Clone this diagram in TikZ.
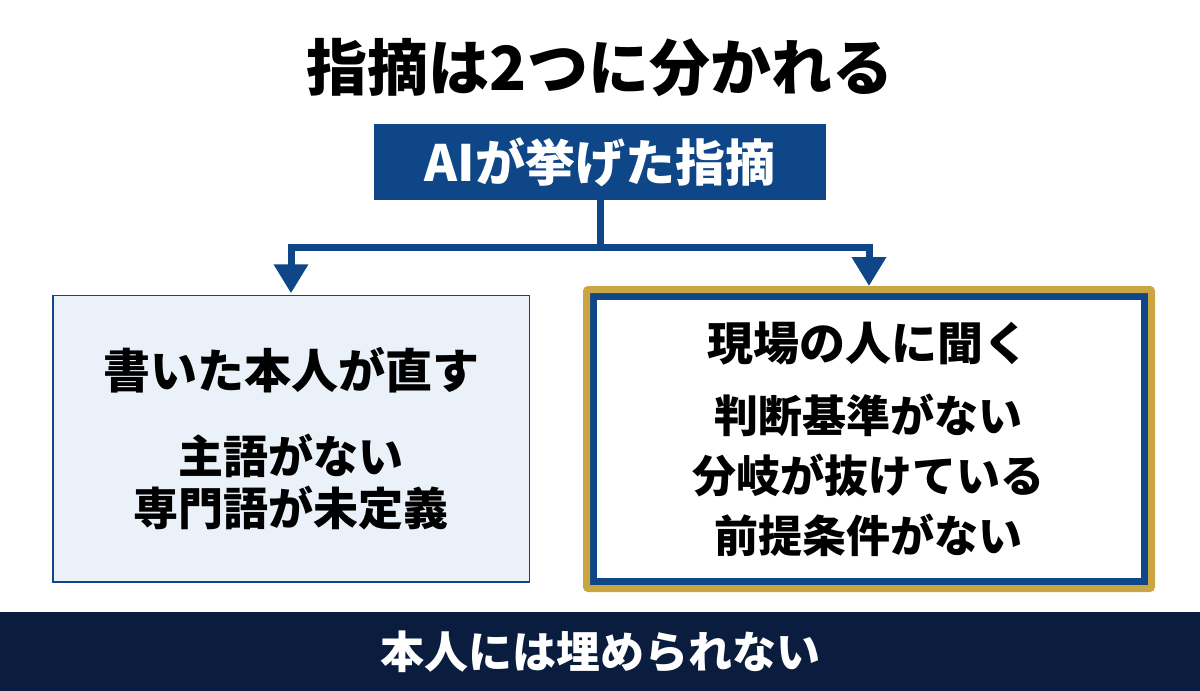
\documentclass[tikz,border=0pt]{standalone}
\usepackage{fontspec}
\setmainfont{Noto Sans CJK JP}
\usepackage{xcolor}
\usepackage{tikz}
\usetikzlibrary{arrows.meta, positioning, fit}
\definecolor{navy}{HTML}{0E4688}
\definecolor{deepnavy}{HTML}{0B1D3E}
\definecolor{paleblue}{HTML}{EAF1F9}
\definecolor{gold}{HTML}{C9A544}
\tikzset{
  box/.style={
    rectangle, inner sep=0pt, outer sep=0pt,
    text centered, font=\bfseries
  },
  src/.style   = {box, fill=navy, text=white,
                  minimum width=452pt, minimum height=76pt,
                  font=\fontsize{50}{58}\selectfont\bfseries},
  selfbox/.style  = {box, fill=paleblue, draw=navy, line width=1.5pt,
                  minimum width=476.5pt, minimum height=286.5pt},
  fieldbox/.style = {box, fill=white, draw=navy, line width=7pt,
                  minimum width=551pt, minimum height=285pt},
  rim/.style   = {rectangle, draw=gold, line width=7pt,
                  inner sep=7pt, rounded corners=2pt},
  bar/.style   = {box, fill=deepnavy, text=white,
                  minimum width=1200pt, minimum height=79pt,
                  font=\fontsize{44}{50}\selectfont\bfseries},
  head/.style  = {inner sep=0pt, font=\fontsize{47}{52}\selectfont\bfseries},
  item/.style  = {inner sep=0pt, align=center},
  arr/.style   = {-{Triangle[width=33pt, length=29pt]}, draw=navy, line width=7pt},
}

\begin{document}
\begin{tikzpicture}[x=1pt, y=-1pt]
  \fill[white] (0,0) rectangle (1200,691);
  \useasboundingbox (0,0) rectangle (1200,691);

  % Title
  \node[inner sep=0pt, font=\fontsize{61}{66}\selectfont\bfseries] (title) at (600,68) {指摘は2つに分かれる};

  % Modules
  \node[src] (ai) at (600,162) {AIが挙げた指摘};
  \node[selfbox] (self) at (291,438.5) {};
  \node[fieldbox] (field) at (869,439) {};
  \node[rim, fit=(field)] (fieldrim) {};
  \node[bar] (gap) at (600,651.5) {本人には埋められない};

  % Texts
  \node[head] (selfhead) at (291,370) {書いた本人が直す};
  \node[item, font=\fontsize{45}{52}\selectfont\bfseries] (selfitems) at (291,482)
    {主語がない\\専門語が未定義};
  \node[head, font=\fontsize{46}{52}\selectfont\bfseries] (fieldhead) at (868,344) {現場の人に聞く};
  \node[item, font=\fontsize{44}{60}\selectfont\bfseries] (fielditems) at (868,475)
    {判断基準がない\\分岐が抜けている\\前提条件がない};

  % Arrows
  \draw[arr] (ai.south) -- ++(0,47) -| ([yshift=2pt]self.north);
  \draw[arr] (ai.south) -- ++(0,47) -| (fieldrim.north);

\end{tikzpicture}
\end{document}
